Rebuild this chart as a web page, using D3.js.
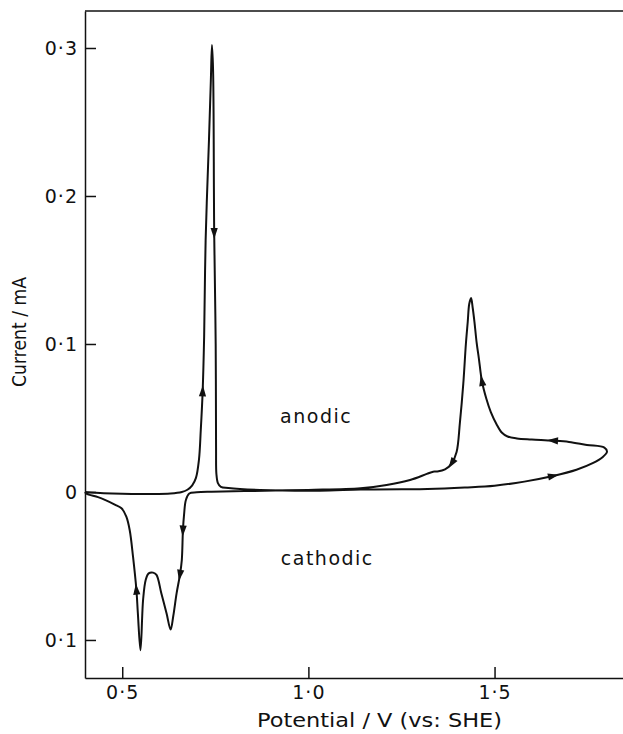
<!DOCTYPE html>
<html>
<head>
<meta charset="utf-8">
<script src="https://cdn.jsdelivr.net/npm/d3@7"></script>
<style>
  body { margin: 0; background: #fff; }
  svg text { font-family: "DejaVu Sans", sans-serif; fill: #111; }
</style>
</head>
<body>
<div id="chart"></div>
<script>
// Cyclic voltammogram, values.
// Sweep order: forward 0.4 -> 1.8 V, then back down to 0.4 V.
var potential = [
  0.400, 0.450, 0.500, 0.570, 0.630, 0.660, 0.675, 0.688, 0.698, 0.706,
  0.711, 0.716, 0.720, 0.724, 0.733, 0.738, 0.741, 0.744, 0.747, 0.751,
  0.752, 0.753, 0.757, 0.765, 0.785, 0.870, 1.030, 1.140, 1.250, 1.320,
  1.420, 1.500, 1.580, 1.657, 1.720, 1.765, 1.790, 1.802,
  1.795, 1.748, 1.700, 1.657, 1.600, 1.560, 1.535, 1.520, 1.505, 1.490,
  1.478, 1.466, 1.458, 1.452, 1.446, 1.441, 1.437, 1.432, 1.428, 1.423,
  1.416, 1.407, 1.398, 1.385, 1.367, 1.345, 1.335, 1.318, 1.273, 1.210,
  1.140, 1.000, 0.850, 0.740, 0.700, 0.680, 0.671, 0.666, 0.663, 0.660,
  0.655, 0.646, 0.637, 0.630, 0.619, 0.605, 0.592, 0.583, 0.571, 0.563,
  0.556, 0.549, 0.542, 0.538, 0.529, 0.520, 0.511, 0.498, 0.480, 0.455,
  0.435, 0.404, 0.400
];
var current = [
  0.0000, -0.0008, -0.0012, -0.0013, -0.0010, 0.0000, 0.0015, 0.0045, 0.0095, 0.0216,
  0.0420, 0.0680, 0.1050, 0.1700, 0.2380, 0.2780, 0.3020, 0.2850, 0.1750, 0.1000,
  0.0300, 0.0120, 0.0060, 0.0035, 0.0027, 0.0014, 0.0009, 0.0016, 0.0018, 0.0020,
  0.0030, 0.0042, 0.0070, 0.0108, 0.0150, 0.0196, 0.0235, 0.0272,
  0.0300, 0.0318, 0.0338, 0.0347, 0.0355, 0.0362, 0.0375, 0.0400, 0.0460, 0.0540,
  0.0630, 0.0750, 0.0900, 0.1007, 0.1150, 0.1250, 0.1310, 0.1270, 0.1150, 0.1000,
  0.0730, 0.0470, 0.0270, 0.0194, 0.0152, 0.0138, 0.0137, 0.0122, 0.0081, 0.0047,
  0.0025, 0.0014, 0.0007, 0.0002, -0.0002, -0.0010, -0.0054, -0.0155, -0.0260, -0.0460,
  -0.0560, -0.0685, -0.0840, -0.0930, -0.0820, -0.0685, -0.0560, -0.0545, -0.0550, -0.0595,
  -0.0730, -0.1070, -0.0820, -0.0660, -0.0437, -0.0257, -0.0167, -0.0110, -0.0085, -0.0055,
  -0.0035, -0.0012, 0.0000
];

// where the sweep-direction arrowheads sit (points of the sweep above)
var arrowPotential = [0.716, 0.747, 1.657, 1.657, 1.466, 1.385, 0.663, 0.655, 0.538];
var arrowCurrent   = [0.068, 0.175, 0.0108, 0.0347, 0.075, 0.0194, -0.026, -0.056, -0.066];

var xTicks = [0.5, 1.0, 1.5];
var yTicks = [-0.1, 0, 0.1, 0.2, 0.3];

var labelText = ["anodic", "cathodic"];
var labelPotential = [0.924, 0.926];
var labelCurrent = [0.0466, -0.0493];

// Width and height
var w = 623;
var h = 734;

var xScale = d3.scaleLinear()
  .domain([0.4, 1.845])
  .range([85, 623]);

var yScale = d3.scaleLinear()
  .domain([-0.1257, 0.325])
  .range([678, 11]);

// 0·3 style labels, sign dropped like the original
function fmt(d) {
  if (d === 0) return "0";
  return d3.format(".1f")(Math.abs(d)).replace(".", "\u00b7");
}

var svg = d3.select("#chart")
  .append("svg")
  .attr("width", w)
  .attr("height", h);

// top frame line
svg.append("line")
  .attr("x1", xScale.range()[0])
  .attr("x2", xScale.range()[1])
  .attr("y1", yScale.range()[1])
  .attr("y2", yScale.range()[1])
  .attr("stroke", "#111")
  .attr("stroke-width", 1.5);

// X axis
var xAxis = svg.append("g")
  .attr("transform", "translate(0," + yScale.range()[0] + ")")
  .call(d3.axisBottom(xScale)
    .tickValues(xTicks)
    .tickSizeInner(-11)
    .tickSizeOuter(0)
    .tickPadding(7.5)
    .tickFormat(fmt));

// Y axis
var yAxis = svg.append("g")
  .attr("transform", "translate(" + xScale.range()[0] + ",0)")
  .call(d3.axisLeft(yScale)
    .tickValues(yTicks)
    .tickSizeInner(-11)
    .tickSizeOuter(0)
    .tickPadding(7)
    .tickFormat(fmt));

[xAxis, yAxis].forEach(function(g) {
  g.attr("font-family", null).attr("font-size", 19);
  g.selectAll("path, line").attr("stroke", "#111").attr("stroke-width", 1.5);
  g.selectAll("text").attr("fill", "#111").style("letter-spacing", "1px");
});

// axis titles
svg.append("text")
  .attr("x", 257)
  .attr("y", 727)
  .attr("font-size", 19)
  .attr("textLength", 245)
  .attr("lengthAdjust", "spacingAndGlyphs")
  .text("Potential / V (vs: SHE)");

svg.append("text")
  .attr("transform", "translate(26,332) rotate(-90)")
  .attr("text-anchor", "middle")
  .attr("font-size", 20)
  .attr("textLength", 110)
  .attr("lengthAdjust", "spacingAndGlyphs")
  .text("Current / mA");

// the voltammogram
var pts = potential.map(function(p, i) { return [p, current[i]]; });

var line = d3.line()
  .curve(d3.curveCatmullRom.alpha(0.5))
  .x(function(d) { return xScale(d[0]); })
  .y(function(d) { return yScale(d[1]); });

svg.append("path")
  .datum(pts)
  .attr("d", line)
  .attr("fill", "none")
  .attr("stroke", "#111")
  .attr("stroke-width", 2)
  .attr("stroke-linejoin", "round");

// arrowheads, turned along the sweep
var arrows = arrowPotential.map(function(p, k) {
  var best = 0, bestD = Infinity;
  pts.forEach(function(d, i) {
    var dd = Math.hypot(xScale(d[0]) - xScale(p), yScale(d[1]) - yScale(arrowCurrent[k]));
    if (dd < bestD) { bestD = dd; best = i; }
  });
  var a = pts[Math.max(best - 1, 0)], b = pts[Math.min(best + 1, pts.length - 1)];
  var ang = Math.atan2(yScale(b[1]) - yScale(a[1]), xScale(b[0]) - xScale(a[0])) * 180 / Math.PI;
  return { x: xScale(p), y: yScale(arrowCurrent[k]), ang: ang };
});

svg.selectAll(".arrow")
  .data(arrows)
  .enter().append("path")
  .attr("class", "arrow")
  .attr("d", "M6,0L-5,-3.6L-5,3.6Z")
  .attr("transform", function(d) {
    return "translate(" + d.x + "," + d.y + ") rotate(" + d.ang + ")";
  })
  .attr("fill", "#111");

// region labels
svg.selectAll(".lbl")
  .data(labelText)
  .enter().append("text")
  .attr("class", "lbl")
  .attr("x", function(d, i) { return xScale(labelPotential[i]); })
  .attr("y", function(d, i) { return yScale(labelCurrent[i]); })
  .attr("font-size", 19)
  .style("letter-spacing", "1.5px")
  .text(function(d) { return d; });
</script>
</body>
</html>
